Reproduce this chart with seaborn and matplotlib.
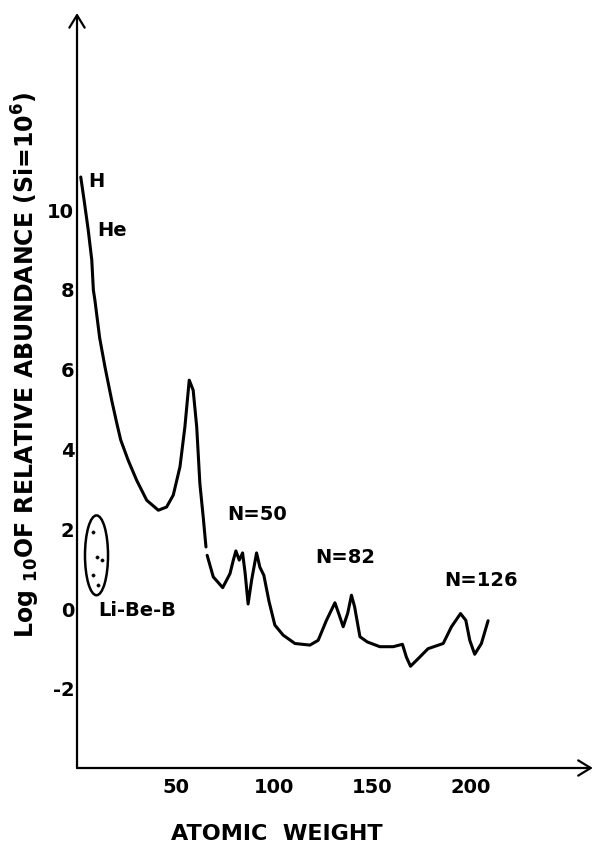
"""
Cosmic abundance curve: log10 relative abundance (Si = 1e6) vs atomic weight.
Redrawn from a hand-lettered textbook figure.
"""

import matplotlib
matplotlib.use("Agg")
import matplotlib.pyplot as plt
from matplotlib.patches import Ellipse
import seaborn as sns
import pandas as pd

# light elements down to the iron peak (first stroke of the pen)
light_weight = [1.9, 3.6, 5.7, 7.5, 8.3, 9.1, 11.5, 14.2, 17.6, 20.2, 22.2,
                26.0, 30.3, 35.4, 41.3, 45.5, 48.9, 52.3, 54.8, 57.0, 59.0,
                60.8, 62.4, 64.1, 65.5]
light_abund = [10.83, 10.25, 9.5, 8.75, 8.0, 7.74, 6.8, 6.07, 5.24, 4.66, 4.24,
               3.73, 3.23, 2.73, 2.48, 2.56, 2.86, 3.57, 4.57, 5.74, 5.49,
               4.57, 3.15, 2.31, 1.56]

# heavy elements (second stroke)
heavy_weight = [66.1, 69.2, 74.0, 77.7, 79.4, 80.7, 82.4, 84.1, 85.4, 86.9,
                88.7, 91.2, 92.9, 94.9, 97.5, 100.5, 104.7, 110.7, 118.3, 122.5,
                126.7, 131.0, 133.0, 135.2, 137.5, 139.4, 141.0, 143.7, 147.4,
                153.8, 160.6, 165.3, 167.3, 169.4, 174.1, 178.3, 186.0, 190.2,
                194.8, 197.5, 199.5, 202.0, 205.4, 208.8]
heavy_abund = [1.35, 0.81, 0.54, 0.89, 1.23, 1.46, 1.23, 1.41, 0.9, 0.13,
               0.73, 1.41, 1.05, 0.85, 0.2, -0.4, -0.65, -0.86, -0.9, -0.78,
               -0.28, 0.16, -0.12, -0.44, -0.1, 0.35, 0.06, -0.69, -0.82,
               -0.94, -0.94, -0.88, -1.2, -1.43, -1.2, -0.99, -0.86, -0.44,
               -0.11, -0.28, -0.78, -1.13, -0.86, -0.29]

# Li-Be-B isotopes inside the loop
libeb_weight = [8.1, 10.2, 12.7, 8.1, 10.7]
libeb_abund = [1.93, 1.30, 1.23, 0.85, 0.60]

x_ticks = [50, 100, 150, 200]
y_ticks = [-2, 0, 2, 4, 6, 8, 10]

# (label, x, y) for the hand-written notes
notes = [("H", 9.6, 10.73), ("He", 17.7, 9.5), ("N=50", 91.4, 2.38),
         ("N=82", 136.0, 1.3), ("N=126", 205.0, 0.73), ("Li-Be-B", 30.5, -0.03)]

sns.set_style("white")
plt.rcParams["font.family"] = ["DejaVu Sans"]
plt.rcParams["font.weight"] = "bold"
plt.rcParams["axes.unicode_minus"] = False
plt.rcParams["mathtext.default"] = "bf"
plt.rcParams["text.color"] = "black"
plt.rcParams["axes.labelcolor"] = "black"

INK = "black"
LW = 2.2

df_light = pd.DataFrame({"weight": light_weight, "abund": light_abund})
df_heavy = pd.DataFrame({"weight": heavy_weight, "abund": heavy_abund})
df_libeb = pd.DataFrame({"weight": libeb_weight, "abund": libeb_abund})

fig = plt.figure(figsize=(5.97, 8.46), dpi=100)
ax = fig.add_axes([0.129, 0.0922, 0.864, 0.8924])

line_kw = dict(sort=False, estimator=None, color=INK, linewidth=LW, ax=ax,
               solid_joinstyle="round", solid_capstyle="round")
sns.lineplot(data=df_light, x="weight", y="abund", **line_kw)
sns.lineplot(data=df_heavy, x="weight", y="abund", **line_kw)
sns.scatterplot(data=df_libeb, x="weight", y="abund", color=INK, s=6,
                edgecolor=None, ax=ax)
ax.add_patch(Ellipse((9.9, 1.35), 11.7, 2.0, fill=False, edgecolor=INK, linewidth=1.8))

ax.set_xlim(0, 262)
ax.set_ylim(-3.98, 14.94)

for sp in ax.spines.values():
    sp.set_visible(False)

# axes drawn as arrows
arrow = dict(arrowstyle="->,head_length=0.9,head_width=0.55", color=INK, lw=1.6,
             shrinkA=0, shrinkB=0)
ax.annotate("", xy=(1, 0), xytext=(0, 0), xycoords="axes fraction", arrowprops=arrow)
ax.annotate("", xy=(0, 1), xytext=(0, 0), xycoords="axes fraction", arrowprops=arrow)

ax.set_xticks(x_ticks)
ax.set_yticks(y_ticks)
ax.tick_params(axis="both", direction="in", length=8, width=1.5, color=INK,
               labelsize=14, labelcolor=INK)
ax.tick_params(axis="x", pad=7)
ax.tick_params(axis="y", pad=2)

ax.set_xlabel("ATOMIC  WEIGHT", fontsize=16, fontweight="bold", labelpad=20)
ax.xaxis.label.set_x(0.388)
ax.set_ylabel(r"Log $_{10}$OF RELATIVE ABUNDANCE (Si=10$^6$)", fontsize=17,
              fontweight="bold", labelpad=4)
ax.yaxis.label.set_y(0.534)

for label, xv, yv in notes:
    ax.text(xv, yv, label, fontsize=14, fontweight="bold", ha="center",
            va="center", color=INK)

fig.savefig("out.png", dpi=100)
